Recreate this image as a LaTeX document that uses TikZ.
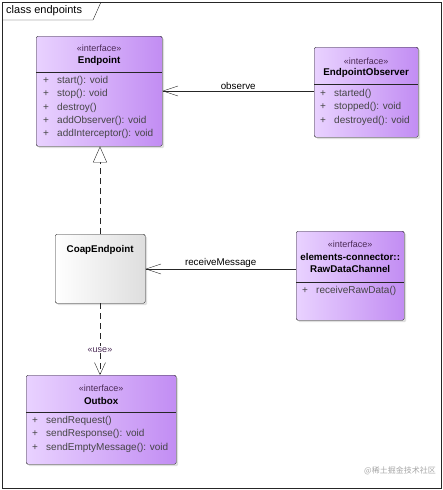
\documentclass[tikz,border=0pt]{standalone}
\usepackage{fontspec}
\setmainfont{Liberation Sans}
\newfontfamily\cjk{Noto Sans CJK SC}
\usetikzlibrary{arrows.meta,shadows,calc,positioning}

\definecolor{ifaceLight}{HTML}{E9D2FF}
\definecolor{ifaceDark}{HTML}{C28DF3}
\definecolor{stereoCol}{HTML}{4A2A55}
\definecolor{opCol}{HTML}{454545}

\tikzset{
  umlbox/.style={draw=black!85, rounded corners=1.5pt, inner sep=0pt, anchor=north west,
    drop shadow={shadow xshift=2pt, shadow yshift=-2pt, opacity=.25}},
  iface/.style={umlbox, left color=ifaceLight, right color=ifaceDark},
  plainclass/.style={umlbox, left color=white, right color=black!13},
  stereo/.style={font=\fontsize{9}{10}\selectfont, text=stereoCol, inner sep=0pt},
  clsname/.style={font=\fontsize{9.8}{12.5}\selectfont\bfseries, inner sep=0pt, align=center},
  ops/.style={font=\fontsize{10}{13.3}\selectfont, text=opCol, inner sep=0pt, anchor=north west, align=left},
  assoc/.style={draw=black!85, -{Straight Barb[length=15pt,width=10pt]}},
  realize/.style={draw=black!85, dash pattern=on 6pt off 4pt, -{Triangle[open,length=16pt,width=14pt,fill=white]}},
  depend/.style={draw=black!85, dash pattern=on 6pt off 4pt, -{Straight Barb[length=12pt,width=11pt]}},
  conlabel/.style={font=\fontsize{9.8}{11}\selectfont, inner sep=1pt}
}
\newcommand{\op}[1]{\makebox[14pt][l]{+}#1}

\begin{document}
\begin{tikzpicture}[x=1pt, y=-1pt]
    \useasboundingbox (0,0) rectangle (443,490);
    % frame
    \draw[black!85] (2,2) rectangle (441,488);
    \draw[black!85] (2,20) -- (93,20) -- (101,2);
    \node (frametitle) [anchor=west, font=\fontsize{11}{12}\selectfont, inner sep=0pt] at (6,11) {class endpoints};

    % Endpoint
    \node (ep) [iface, minimum width=126pt, minimum height=110pt] at (36,36) {};
    \draw[black!85] (ep.west |- 0,72) -- (ep.east |- 0,72);
    \node (epS) [stereo] at ($(ep.north)+(0,12)$) {«interface»};
    \node (epN) [clsname] at ($(ep.north)+(0,25)$) {Endpoint};
    \node (epO) [ops] at (43,76) {\op{start(): void}\\\op{stop(): void}\\\op{destroy()}\\\op{addObserver(): void}\\\op{addInterceptor(): void}};

    % EndpointObserver
    \node (obs) [iface, minimum width=104pt, minimum height=90pt] at (314,47) {};
    \draw[black!85] (obs.west |- 0,84) -- (obs.east |- 0,84);
    \node (obsS) [stereo] at ($(obs.north)+(0,14)$) {«interface»};
    \node (obsN) [clsname] at ($(obs.north)+(0,26)$) {EndpointObserver};
    \node (obsO) [ops] at (320,89) {\op{started()}\\\op{stopped(): void}\\\op{destroyed(): void}};

    % CoapEndpoint
    \node (coap) [plainclass, minimum width=90pt, minimum height=69pt] at (55,234) {};
    \node (coapN) [clsname] at ($(coap.north)+(0,16)$) {CoapEndpoint};

    % RawDataChannel
    \node (raw) [iface, minimum width=108pt, minimum height=89pt] at (296,231) {};
    \draw[black!85] (raw.west |- 0,282) -- (raw.east |- 0,282);
    \node (rawS) [stereo] at ($(raw.north)+(0,13)$) {«interface»};
    \node (rawN) [clsname] at ($(raw.north)+(0,32)$) {elements-connector::\\RawDataChannel};
    \node (rawO) [ops] at (302,286) {\op{receiveRawData()}};

    % Outbox
    \node (out) [iface, minimum width=150pt, minimum height=89pt] at (26,375) {};
    \draw[black!85] (out.west |- 0,412) -- (out.east |- 0,412);
    \node (outS) [stereo] at ($(out.north)+(0,13)$) {«interface»};
    \node (outN) [clsname] at ($(out.north)+(0,26)$) {Outbox};
    \node (outO) [ops] at (32,416) {\op{sendRequest()}\\\op{sendResponse(): void}\\\op{sendEmptyMessage(): void}};

    % connectors
    \draw[assoc] (obs.west |- 0,91) -- node[conlabel, above] {observe} (ep.east |- 0,91);
    \draw[realize] (coap.north -| 100,0) -- (ep.south -| 100,0);
    \draw[assoc] (raw.west |- 0,269) -- node[conlabel, above] {receiveMessage} (coap.east |- 0,269);
    \draw[depend] (coap.south -| 100,0) -- node[stereo, fill=white, inner sep=1pt, text=stereoCol, pos=0.65] {«use»} (out.north -| 100,0);

    \node (mark) [anchor=east, font=\cjk\fontsize{8}{9}\selectfont, text=black!35, inner sep=0pt] at (436,471) {@稀土掘金技术社区};
\end{tikzpicture}
\end{document}
